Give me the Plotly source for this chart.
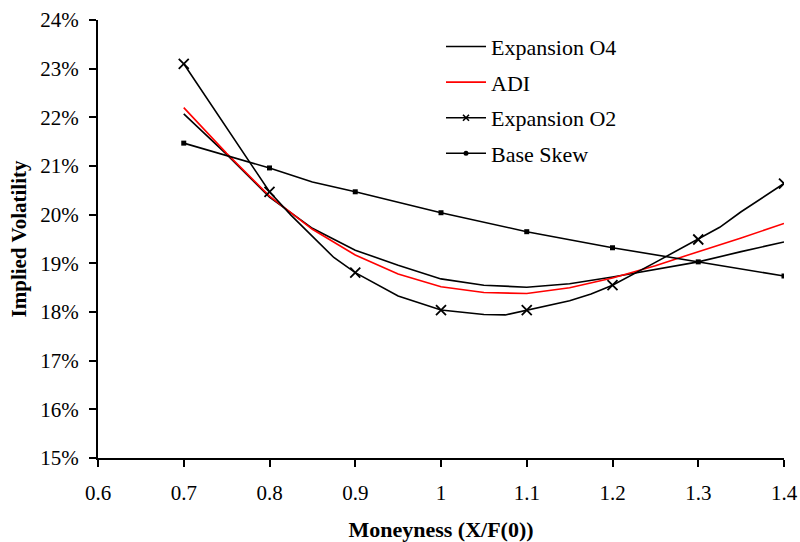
import plotly.graph_objects as go

# Moneyness grid (dense curves)
x_o4 = [0.7, 0.75, 0.8, 0.85, 0.9, 0.95, 1.0, 1.05, 1.1, 1.15, 1.2, 1.25, 1.3, 1.35, 1.4]
y_o4 = [22.07, 21.24, 20.36, 19.72, 19.27, 18.96, 18.68, 18.55, 18.51, 18.58, 18.72, 18.87, 19.03, 19.24, 19.44]

x_adi = [0.7, 0.75, 0.8, 0.85, 0.9, 0.95, 1.0, 1.05, 1.1, 1.15, 1.2, 1.25, 1.3, 1.35, 1.4]
y_adi = [22.20, 21.26, 20.38, 19.70, 19.17, 18.78, 18.52, 18.40, 18.38, 18.50, 18.70, 18.95, 19.24, 19.52, 19.82]

x_o2 = [0.7, 0.8, 0.825, 0.875, 0.9, 0.95, 1.0, 1.05, 1.075, 1.1, 1.15, 1.175, 1.2, 1.25, 1.3, 1.325, 1.35, 1.4]
y_o2 = [23.10, 20.47, 19.99, 19.12, 18.81, 18.33, 18.04, 17.95, 17.94, 18.04, 18.23, 18.37, 18.55, 19.02, 19.49, 19.74, 20.06, 20.64]

x_base = [0.7, 0.8, 0.85, 0.9, 1.0, 1.1, 1.2, 1.3, 1.4]
y_base = [21.47, 20.96, 20.67, 20.47, 20.04, 19.65, 19.32, 19.03, 18.74]

x_ticks = [0.6, 0.7, 0.8, 0.9, 1.0, 1.1, 1.2, 1.3, 1.4]
x_tick_labels = ["0.6", "0.7", "0.8", "0.9", "1", "1.1", "1.2", "1.3", "1.4"]
y_ticks = [15, 16, 17, 18, 19, 20, 21, 22, 23, 24]
y_tick_labels = [f"{v}%" for v in y_ticks]


def tenths(xs, ys):
    px, py = [], []
    for a, b in zip(xs, ys):
        if abs(a * 10 - round(a * 10)) < 1e-9:
            px.append(a)
            py.append(b)
    return px, py


FONT = "Liberation Serif"
fig = go.Figure()

# Curves (no legend)
fig.add_trace(go.Scatter(x=x_o4, y=y_o4, mode="lines", line=dict(color="black", width=1.6),
                         showlegend=False, hoverinfo="skip"))
fig.add_trace(go.Scatter(x=x_adi, y=y_adi, mode="lines", line=dict(color="#ff0000", width=1.6),
                         showlegend=False, hoverinfo="skip"))
fig.add_trace(go.Scatter(x=x_o2, y=y_o2, mode="lines", line=dict(color="black", width=1.6),
                         showlegend=False, hoverinfo="skip"))
mx, my = tenths(x_o2, y_o2)
fig.add_trace(go.Scatter(x=mx, y=my, mode="markers",
                         marker=dict(symbol="x-thin", size=10, line=dict(color="black", width=1.8)),
                         showlegend=False, hoverinfo="skip"))
fig.add_trace(go.Scatter(x=x_base, y=y_base, mode="lines", line=dict(color="black", width=1.6),
                         showlegend=False, hoverinfo="skip"))
bx, by = tenths(x_base, y_base)
fig.add_trace(go.Scatter(x=bx, y=by, mode="markers",
                         marker=dict(symbol="square", size=5, color="black"),
                         showlegend=False, hoverinfo="skip"))

# Legend entries
fig.add_trace(go.Scatter(x=[None], y=[None], mode="lines", name="Expansion O4",
                         line=dict(color="black", width=1.6), legendgroup="a"))
fig.add_trace(go.Scatter(x=[None], y=[None], mode="lines", name="ADI",
                         line=dict(color="#ff0000", width=1.6), legendgroup="b"))
fig.add_trace(go.Scatter(x=[None], y=[None], mode="lines+markers", name="Expansion O2",
                         line=dict(color="black", width=1.6), legendgroup="c",
                         marker=dict(symbol="x-thin", size=6, line=dict(color="black", width=1.6))))
fig.add_trace(go.Scatter(x=[None], y=[None], mode="lines+markers", name="Base Skew",
                         line=dict(color="black", width=1.6), legendgroup="d",
                         marker=dict(symbol="circle", size=5, color="black")))

fig.update_layout(
    width=800, height=542,
    margin=dict(l=98, r=16, t=20, b=84),
    paper_bgcolor="white", plot_bgcolor="white",
    font=dict(family=FONT, size=21, color="black"),
    showlegend=True,
    legend=dict(x=0.5, y=0.987, xanchor="left", yanchor="top",
                traceorder="grouped", tracegroupgap=4,
                font=dict(family=FONT, size=22, color="black"),
                bgcolor="rgba(0,0,0,0)", itemwidth=40),
    xaxis=dict(range=[0.6, 1.4], tickvals=x_ticks, ticktext=x_tick_labels,
               showgrid=False, zeroline=False, showline=True, linecolor="black", linewidth=2,
               ticks="outside", ticklen=7, tickwidth=2, tickcolor="black",
               ticklabelstandoff=8, automargin=False,
               title=dict(text="<b>Moneyness (X/F(0))</b>", font=dict(family=FONT, size=22), standoff=19)),
    yaxis=dict(range=[15, 24], tickvals=y_ticks, ticktext=y_tick_labels,
               showgrid=False, zeroline=False, showline=True, linecolor="black", linewidth=2,
               ticks="outside", ticklen=7, tickwidth=2, tickcolor="black",
               ticklabelstandoff=6, automargin=False,
               title=dict(text="<b>Implied Volatility</b>", font=dict(family=FONT, size=21), standoff=8)),
)

fig.write_html("out.html")
